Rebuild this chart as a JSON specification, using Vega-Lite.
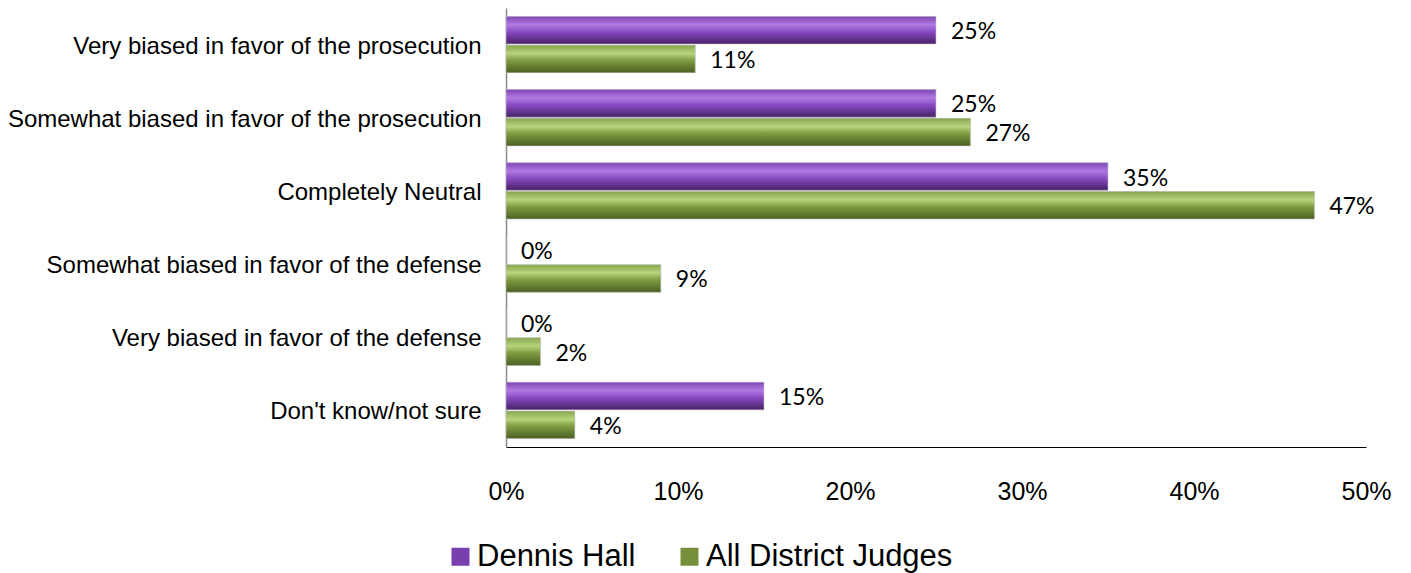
{
  "$schema": "https://vega.github.io/schema/vega-lite/v6.json",
  "width": 860,
  "height": 439,
  "autosize": "none",
  "padding": {"left": 506, "top": 8, "right": 45, "bottom": 126},
  "background": "white",
  "config": {"view": {"stroke": null}},
  "data": {
    "values": [
      {"category": "Very biased in favor of the prosecution", "series": "Dennis Hall", "value": 0.25},
      {"category": "Very biased in favor of the prosecution", "series": "All District Judges", "value": 0.11},
      {"category": "Somewhat biased in favor of the prosecution", "series": "Dennis Hall", "value": 0.25},
      {"category": "Somewhat biased in favor of the prosecution", "series": "All District Judges", "value": 0.27},
      {"category": "Completely Neutral", "series": "Dennis Hall", "value": 0.35},
      {"category": "Completely Neutral", "series": "All District Judges", "value": 0.47},
      {"category": "Somewhat biased in favor of the defense", "series": "Dennis Hall", "value": 0.0},
      {"category": "Somewhat biased in favor of the defense", "series": "All District Judges", "value": 0.09},
      {"category": "Very biased in favor of the defense", "series": "Dennis Hall", "value": 0.0},
      {"category": "Very biased in favor of the defense", "series": "All District Judges", "value": 0.02},
      {"category": "Don't know/not sure", "series": "Dennis Hall", "value": 0.15},
      {"category": "Don't know/not sure", "series": "All District Judges", "value": 0.04}
    ]
  },
  "encoding": {
    "y": {
      "field": "category",
      "type": "nominal",
      "sort": null,
      "title": null,
      "scale": {"paddingInner": 0.23, "paddingOuter": 0.115},
      "axis": {
        "ticks": false,
        "labelPadding": 25,
        "labelFont": "Liberation Sans",
        "labelFontSize": 24,
        "labelColor": "#000000",
        "labelLimit": 600,
        "labelOffset": 2,
        "domainColor": "#8c8c8c",
        "domainWidth": 1.5
      }
    },
    "yOffset": {
      "field": "series",
      "type": "nominal",
      "sort": ["Dennis Hall", "All District Judges"],
      "scale": {"domain": ["Dennis Hall", "All District Judges"], "paddingInner": 0.04}
    },
    "x": {
      "field": "value",
      "type": "quantitative",
      "title": null,
      "scale": {"domain": [0, 0.5], "nice": false},
      "axis": {
        "format": ".0%",
        "values": [0, 0.1, 0.2, 0.3, 0.4, 0.5],
        "ticks": false,
        "grid": false,
        "labelPadding": 32,
        "labelFont": "Liberation Sans",
        "labelFontSize": 25,
        "labelColor": "#000000",
        "labelFlush": false,
        "domainColor": "#000000",
        "domainWidth": 1.2
      }
    }
  },
  "layer": [
    {
      "mark": {"type": "bar"},
      "encoding": {
        "color": {
          "field": "series",
          "type": "nominal",
          "sort": ["Dennis Hall", "All District Judges"],
          "scale": {
            "domain": ["Dennis Hall", "All District Judges"],
            "range": ["#7a3fae", "#768f3c"]
          },
          "legend": {
            "title": null,
            "orient": "none",
            "direction": "horizontal",
            "legendX": -61,
            "legendY": 533,
            "padding": 0,
            "symbolType": "square",
            "symbolSize": 324,
            "symbolStrokeWidth": 0,
            "symbolOpacity": 1,
            "labelFont": "Liberation Sans",
            "labelFontSize": 31,
            "labelColor": "#000000",
            "labelOffset": 1,
            "columnPadding": 38,
            "labelLimit": 400
          }
        }
      }
    },
    {
      "transform": [{"filter": "datum.series === 'Dennis Hall'"}],
      "mark": {
        "type": "bar",
        "stroke": "#c8c8c8",
        "strokeWidth": 0.6,
        "color": {"gradient": "linear", "x1": 0, "y1": 0, "x2": 0, "y2": 1, "stops": [
          {"offset": 0, "color": "#7f45b3"},
          {"offset": 0.3, "color": "#b17ae2"},
          {"offset": 0.55, "color": "#8a4cc4"},
          {"offset": 1, "color": "#472066"}
        ]}
      },
      "encoding": {}
    },
    {
      "transform": [{"filter": "datum.series === 'All District Judges'"}],
      "mark": {
        "type": "bar",
        "stroke": "#c8c8c8",
        "strokeWidth": 0.6,
        "color": {"gradient": "linear", "x1": 0, "y1": 0, "x2": 0, "y2": 1, "stops": [
          {"offset": 0, "color": "#86a54c"},
          {"offset": 0.3, "color": "#b6d47c"},
          {"offset": 0.55, "color": "#7f9c42"},
          {"offset": 1, "color": "#4b5f22"}
        ]}
      },
      "encoding": {}
    },
    {
      "mark": {"type": "text", "align": "left", "baseline": "middle", "dx": 15, "dy": 2, "font": "Lato", "fontSize": 23, "color": "#000000"},
      "encoding": {
        "text": {"field": "value", "type": "quantitative", "format": ".0%"}
      }
    }
  ]
}
